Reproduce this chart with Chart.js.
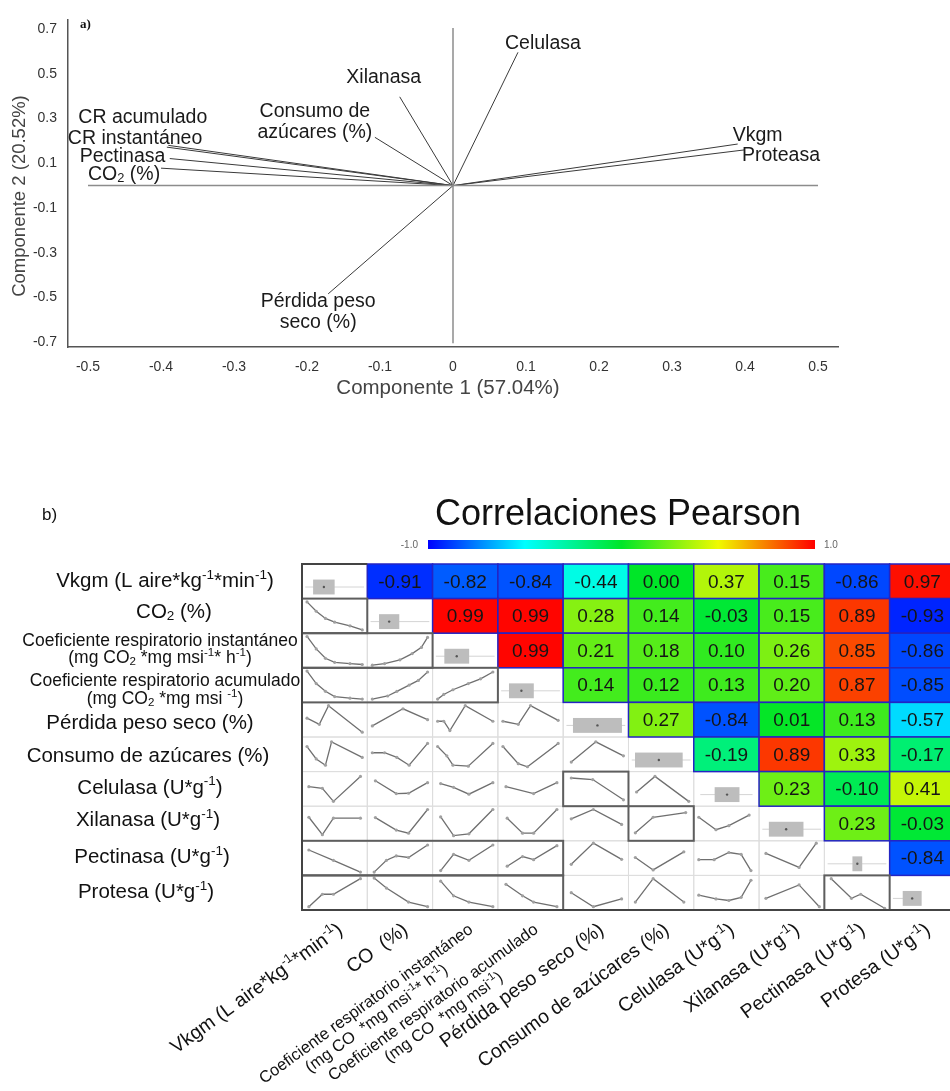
<!DOCTYPE html>
<html>
<head>
<meta charset="utf-8">
<script src="https://cdn.jsdelivr.net/npm/chart.js@4.4.1/dist/chart.umd.min.js"></script>
<style>
  body { margin: 0; background: #fff; }
  #wrap { position: relative; width: 950px; height: 1091px; overflow: hidden; }
  canvas { position: absolute; left: 0; }
</style>
</head>
<body>
<div id="wrap">
  <canvas id="biplot" width="950" height="420" style="top:0"></canvas>
  <canvas id="corr" width="950" height="671" style="top:420px"></canvas>
</div>
<script>
// ---- a) PCA biplot: loadings on component 1 and 2 ----
var vecNames = ['Celulasa', 'Xilanasa', 'Consumo de\nazúcares (%)', 'CR acumulado', 'CR instantáneo',
                'Pectinasa', 'CO_{2} (%)', 'Pérdida peso\nseco (%)', 'Vkgm', 'Proteasa'];
var pc1 = [0.089, -0.073, -0.107, -0.390, -0.392, -0.388, -0.400, -0.171, 0.390, 0.400];
var pc2 = [0.596, 0.397, 0.216, 0.180, 0.172, 0.121, 0.078, -0.484, 0.186, 0.160];
var xTicks = [-0.5, -0.4, -0.3, -0.2, -0.1, 0, 0.1, 0.2, 0.3, 0.4, 0.5];
var yTicks = [0.7, 0.5, 0.3, 0.1, -0.1, -0.3, -0.5, -0.7];

// ---- b) Pearson correlation matrix ----
var varNames = ['Vkgm (L aire*kg^{-1}*min^{-1})', 'CO_{2} (%)',
  'Coeficiente respiratorio instantáneo\n(mg CO_{2} *mg msi^{-1}* h^{-1})',
  'Coeficiente respiratorio acumulado\n(mg CO_{2} *mg msi ^{-1})',
  'Pérdida peso seco (%)', 'Consumo de azúcares (%)', 'Celulasa (U*g^{-1})',
  'Xilanasa (U*g^{-1})', 'Pectinasa (U*g^{-1})', 'Protesa (U*g^{-1})'];
var colNames = ['Vkgm (L aire*kg^{-1}*min^{-1})', 'CO  (%)',
  'Coeficiente respiratorio instantáneo\n(mg CO  *mg msi^{-1}* h^{-1})',
  'Coeficiente respiratorio acumulado\n(mg CO  *mg msi^{-1})',
  'Pérdida peso seco (%)', 'Consumo de azúcares (%)', 'Celulasa (U*g^{-1})',
  'Xilanasa (U*g^{-1})', 'Pectinasa (U*g^{-1})', 'Protesa (U*g^{-1})'];
// upper triangle, row by row (column r+1 .. 9)
var corrRows = [
  [-0.91, -0.82, -0.84, -0.44, 0.00, 0.37, 0.15, -0.86, 0.97],
  [0.99, 0.99, 0.28, 0.14, -0.03, 0.15, 0.89, -0.93],
  [0.99, 0.21, 0.18, 0.10, 0.26, 0.85, -0.86],
  [0.14, 0.12, 0.13, 0.20, 0.87, -0.85],
  [0.27, -0.84, 0.01, 0.13, -0.57],
  [-0.19, 0.89, 0.33, -0.17],
  [0.23, -0.10, 0.41],
  [0.23, -0.03],
  [-0.84]
];
// diagonal box plots (fraction of the cell width)
var boxLo = [0.17, 0.18, 0.18, 0.17, 0.15, 0.10, 0.32, 0.15, 0.43, 0.20];
var boxHi = [0.50, 0.49, 0.56, 0.55, 0.90, 0.83, 0.70, 0.68, 0.58, 0.49];
var whiskLo = [0.05, 0.05, 0.05, 0.05, 0.05, 0.05, 0.10, 0.05, 0.05, 0.05];
var whiskHi = [0.95, 0.95, 0.95, 0.95, 0.95, 0.95, 0.90, 0.95, 0.95, 0.30];
// lower triangle mini plots: [x0,y0,x1,y1,...] in cell fractions, miniLines[row][col]
var miniLines = [
  [],
  [[.05,.95,.2,.65,.35,.42,.5,.3,.75,.18,.95,.05]],
  [[.05,.95,.2,.55,.35,.25,.5,.12,.75,.08,.95,.05], [.05,.03,.25,.08,.5,.2,.7,.4,.85,.6,.95,.92]],
  [[.05,.95,.2,.55,.35,.3,.5,.13,.75,.08,.95,.05], [.05,.05,.3,.15,.45,.3,.65,.5,.8,.65,.95,.92],
   [.05,.05,.15,.2,.3,.35,.55,.55,.75,.7,.95,.92]],
  [[.05,.55,.25,.35,.4,.95,.95,.1], [.05,.3,.55,.85,.95,.5], [.05,.45,.15,.45,.25,.15,.5,.95,.95,.45],
   [.05,.45,.3,.35,.5,.95,.95,.48]],
  [[.05,.75,.2,.35,.35,.15,.45,.9,.95,.4], [.05,.55,.25,.55,.45,.4,.65,.15,.95,.85],
   [.05,.75,.2,.45,.3,.15,.55,.12,.95,.85], [.05,.75,.3,.2,.45,.1,.95,.85], [.1,.25,.5,.9,.95,.45]],
  [[.08,.57,.3,.52,.48,.1,.92,.9], [.1,.76,.44,.35,.64,.36,.95,.7], [.1,.67,.31,.55,.56,.33,.95,.7],
   [.1,.57,.55,.35,.93,.7], [.1,.85,.45,.8,.95,.15], [.1,.4,.4,.9,.95,.1]],
  [[.08,.7,.3,.14,.48,.67,.92,.67], [.1,.69,.44,.29,.64,.19,.95,.95], [.1,.71,.31,.11,.56,.17,.95,.95],
   [.12,.67,.37,.19,.55,.19,.93,.95], [.1,.65,.46,.95,.92,.47], [.08,.2,.37,.7,.9,.85],
   [.05,.7,.33,.3,.54,.43,.87,.77]],
  [[.08,.76,.48,.43,.92,.05], [.08,.05,.28,.43,.44,.57,.64,.52,.95,.92], [.1,.1,.31,.62,.56,.43,.95,.92],
   [.12,.24,.37,.55,.55,.45,.93,.9], [.1,.3,.46,.98,.92,.46], [.08,.52,.37,.12,.87,.7],
   [.05,.45,.3,.45,.54,.68,.74,.62,.9,.1], [.08,.65,.62,.2,.9,.98]],
  [[.08,.05,.3,.45,.48,.45,.92,.95], [.08,.97,.28,.65,.64,.2,.95,.05], [.1,.87,.31,.4,.56,.2,.95,.05],
   [.1,.77,.37,.4,.55,.2,.93,.05], [.1,.5,.46,.05,.92,.3], [.08,.2,.37,.95,.87,.2],
   [.05,.42,.33,.3,.54,.25,.74,.35,.9,.9], [.08,.32,.62,.75,.95,.05], [.08,.95,.41,.32,.56,.45,.95,0]]
];

// ---- layout / style ----
var FONT = '"Liberation Sans", Arial, sans-serif';
// label offsets from each vector tip (px)
var vecLabelPos = [
  {dx: -13, dy: -9, align: 'left'}, {dx: -16, dy: -19, align: 'center'}, {dx: -60, dy: -26, align: 'center'},
  {dx: -90, dy: -28, align: 'left'}, {dx: -99, dy: -9, align: 'left'}, {dx: -90, dy: -2, align: 'left'},
  {dx: -73, dy: 6, align: 'left'}, {dx: -10, dy: 8, align: 'center'}, {dx: -5, dy: -8, align: 'left'},
  {dx: -3, dy: 6, align: 'left'}
];
var rowLabelCx = [165, 174, 160, 165, 150, 148, 150, 148, 152, 146];
var rowLabelDy = [0, -4, -1, 5, 4, 2, -1, -3, -1, 0];
var jetStops = [[0, [0, 0, 255]], [0.25, [0, 255, 255]], [0.5, [0, 230, 40]], [0.75, [240, 250, 0]], [1, [255, 0, 0]]];

function jet(v) {
  var t = (v + 1) / 2;
  for (var i = 1; i < jetStops.length; i++) {
    if (t <= jetStops[i][0]) {
      var a = jetStops[i - 1], b = jetStops[i];
      var f = (t - a[0]) / (b[0] - a[0]);
      var c = a[1].map(function(x, k) { return Math.round(x + (b[1][k] - x) * f); });
      return 'rgb(' + c.join(',') + ')';
    }
  }
  return 'rgb(255,0,0)';
}

// text with ^{sup} and _{sub}
function richSegs(s) {
  var out = [], re = /(\^\{[^}]*\}|_\{[^}]*\})/g, last = 0, m;
  while ((m = re.exec(s))) {
    if (m.index > last) out.push({t: s.slice(last, m.index), k: 0});
    out.push({t: m[0].slice(2, -1), k: m[0][0] === '^' ? 1 : -1});
    last = re.lastIndex;
  }
  if (last < s.length) out.push({t: s.slice(last), k: 0});
  return out;
}
function richWidth(ctx, s, size) {
  var w = 0;
  richSegs(s).forEach(function(g) {
    ctx.font = (g.k ? size * 0.66 : size) + 'px ' + FONT;
    w += ctx.measureText(g.t).width;
  });
  return w;
}
function drawRich(ctx, s, x, y, size, align) {
  var segs = richSegs(s), w = richWidth(ctx, s, size);
  var cx = align === 'center' ? x - w / 2 : align === 'right' ? x - w : x;
  ctx.textAlign = 'left';
  ctx.textBaseline = 'middle';
  segs.forEach(function(g) {
    ctx.font = (g.k ? size * 0.66 : size) + 'px ' + FONT;
    var off = g.k === 1 ? -size * 0.3 : g.k === -1 ? size * 0.2 : 0;
    ctx.fillText(g.t, cx, y + off);
    cx += ctx.measureText(g.t).width;
  });
}

function fmtTick(v) { return Math.abs(v) < 1e-9 ? '0' : v.toFixed(1); }

// ================= a) biplot =================
var biplotLabels = {
  id: 'biplotLabels',
  afterDraw: function(chart) {
    var ctx = chart.ctx, xs = chart.scales.x, ys = chart.scales.y;
    ctx.save();
    ctx.fillStyle = '#1a1a1a';
    vecNames.forEach(function(n, i) {
      var p = vecLabelPos[i];
      var px = xs.getPixelForValue(pc1[i]) + p.dx, py = ys.getPixelForValue(pc2[i]) + p.dy;
      n.split('\n').forEach(function(line, k) {
        drawRich(ctx, line, px, py + k * 21, 19.5, p.align);
      });
    });
    ctx.fillStyle = '#444';
    ctx.font = '20.5px ' + FONT;
    ctx.textAlign = 'center';
    ctx.textBaseline = 'middle';
    ctx.fillText('Componente 1 (57.04%)', 448, 388);
    ctx.translate(20, 196);
    ctx.rotate(-Math.PI / 2);
    ctx.font = '18.5px ' + FONT;
    ctx.fillText('Componente 2 (20.52%)', 0, 0);
    ctx.restore();
    ctx.save();
    ctx.fillStyle = '#111';
    ctx.font = 'bold 13px "Liberation Serif", serif';
    ctx.textBaseline = 'middle';
    ctx.fillText('a)', 80, 25);
    ctx.restore();
  }
};

var biplotSets = [
  {data: [{x: xTicks[0], y: 0}, {x: xTicks[xTicks.length - 1], y: 0}], borderColor: '#8c8c8c', borderWidth: 1.5},
  {data: [{x: 0, y: -0.705}, {x: 0, y: 0.705}], borderColor: '#8c8c8c', borderWidth: 1.5}
].concat(vecNames.map(function(n, i) {
  return {label: n, data: [{x: 0, y: 0}, {x: pc1[i], y: pc2[i]}], borderColor: '#3a3a3a', borderWidth: 1};
}));
biplotSets.forEach(function(d) { d.showLine = true; d.pointRadius = 0; });

new Chart(document.getElementById('biplot'), {
  type: 'scatter',
  data: {datasets: biplotSets},
  options: {
    responsive: false,
    animation: false,
    events: [],
    layout: {padding: {left: 0, right: 112, top: 8, bottom: 0}},
    plugins: {legend: {display: false}, tooltip: {enabled: false}},
    scales: {
      x: {
        type: 'linear', min: -0.5274, max: 0.5274,
        grid: {display: false, drawTicks: false},
        border: {color: '#555', width: 1.5},
        ticks: {font: {family: FONT, size: 14}, color: '#333', padding: 12, maxRotation: 0, autoSkip: false, callback: fmtTick},
        afterBuildTicks: function(s) { s.ticks = xTicks.map(function(v) { return {value: v}; }); },
        afterFit: function(s) { s.height = 73; }
      },
      y: {
        type: 'linear', min: -0.7216, max: 0.7432,
        grid: {display: false, drawTicks: false},
        border: {color: '#555', width: 1.5},
        ticks: {font: {family: FONT, size: 14}, color: '#333', padding: 11, autoSkip: false, callback: fmtTick},
        afterBuildTicks: function(s) { s.ticks = yTicks.map(function(v) { return {value: v}; }); },
        afterFit: function(s) { s.width = 68; }
      }
    }
  },
  plugins: [biplotLabels]
});

// ================= b) correlation matrix =================
var N = varNames.length;
function corr(r, c) {
  if (r === c) return 1;
  return r < c ? corrRows[r][c - r - 1] : corrRows[c][r - c - 1];
}

var miniSets = [];
miniLines.forEach(function(row, r) {
  row.forEach(function(flat, c) {
    var pts = [];
    for (var k = 0; k < flat.length; k += 2) {
      pts.push({x: c + 0.03 + 0.94 * flat[k], y: r + 1 - (0.05 + 0.9 * flat[k + 1])});
    }
    miniSets.push({
      data: pts, showLine: true, borderColor: '#6f6f6f', borderWidth: 1.3,
      pointRadius: 1.6, pointBackgroundColor: '#a0a0a0', pointBorderWidth: 0
    });
  });
});

var matrixDecor = {
  id: 'matrixDecor',
  beforeDatasetsDraw: function(chart) {
    var ctx = chart.ctx, xs = chart.scales.x, ys = chart.scales.y;
    var X = function(v) { return xs.getPixelForValue(v); };
    var Y = function(v) { return ys.getPixelForValue(v); };
    ctx.save();
    // light grid in the lower triangle and diagonal
    ctx.strokeStyle = '#dedede';
    ctx.lineWidth = 1;
    for (var r = 0; r < N; r++) {
      for (var c = 0; c <= r; c++) {
        ctx.strokeRect(X(c), Y(r), X(c + 1) - X(c), Y(r + 1) - Y(r));
      }
    }
    // coloured upper triangle
    for (r = 0; r < N; r++) {
      for (c = r + 1; c < N; c++) {
        var v = corr(r, c);
        ctx.fillStyle = jet(v);
        ctx.fillRect(X(c), Y(r), X(c + 1) - X(c), Y(r + 1) - Y(r));
        ctx.strokeStyle = '#2424c4';
        ctx.lineWidth = 1.5;
        ctx.strokeRect(X(c), Y(r), X(c + 1) - X(c), Y(r + 1) - Y(r));
        ctx.fillStyle = '#151515';
        ctx.font = '19px ' + FONT;
        ctx.textAlign = 'center';
        ctx.textBaseline = 'middle';
        ctx.fillText(v.toFixed(2), X(c + 0.5), Y(r + 0.5) + 1);
      }
    }
    // diagonal box plots
    for (r = 0; r < N; r++) {
      var ym = Y(r + 0.665);
      ctx.strokeStyle = '#d4d4d4';
      ctx.lineWidth = 1;
      ctx.beginPath();
      ctx.moveTo(X(r + whiskLo[r]), ym);
      ctx.lineTo(X(r + whiskHi[r]), ym);
      ctx.stroke();
      ctx.fillStyle = '#bdbdbd';
      ctx.fillRect(X(r + boxLo[r]), Y(r + 0.45), X(r + boxHi[r]) - X(r + boxLo[r]), Y(r + 0.88) - Y(r + 0.45));
      ctx.fillStyle = '#555';
      ctx.beginPath();
      ctx.arc(X(r + (boxLo[r] + boxHi[r]) / 2), ym, 1.2, 0, Math.PI * 2);
      ctx.fill();
    }
    ctx.restore();
  },
  afterDatasetsDraw: function(chart) {
    var ctx = chart.ctx, xs = chart.scales.x, ys = chart.scales.y;
    var X = function(v) { return xs.getPixelForValue(v); };
    var Y = function(v) { return ys.getPixelForValue(v); };
    ctx.save();
    // frames around strong correlations in the lower triangle
    ctx.strokeStyle = '#5e5e5e';
    ctx.lineWidth = 2;
    for (var r = 1; r < N; r++) {
      var c = 0;
      while (c < r) {
        if (Math.abs(corr(r, c)) >= 0.8) {
          var c1 = c;
          while (c1 + 1 < r && Math.abs(corr(r, c1 + 1)) >= 0.8) c1++;
          ctx.strokeRect(X(c), Y(r), X(c1 + 1) - X(c), Y(r + 1) - Y(r));
          c = c1 + 1;
        } else {
          c++;
        }
      }
    }
    // outer border
    ctx.strokeStyle = '#444';
    ctx.lineWidth = 2;
    ctx.beginPath();
    ctx.moveTo(X(1), Y(0));
    ctx.lineTo(X(0), Y(0));
    ctx.lineTo(X(0), Y(N));
    ctx.lineTo(chart.width, Y(N));
    ctx.stroke();
    ctx.restore();
  },
  afterDraw: function(chart) {
    var ctx = chart.ctx, xs = chart.scales.x, ys = chart.scales.y;
    var X = function(v) { return xs.getPixelForValue(v); };
    var Y = function(v) { return ys.getPixelForValue(v); };
    ctx.save();
    ctx.fillStyle = '#111';
    // row labels
    varNames.forEach(function(n, r) {
      var lines = n.split('\n');
      var size = lines.length > 1 ? 17.5 : 20.5, lh = 17.5;
      lines.forEach(function(line, k) {
        drawRich(ctx, line, rowLabelCx[r], Y(r + 0.5) + rowLabelDy[r] + (k - (lines.length - 1) / 2) * lh, size, 'center');
      });
    });
    // rotated column labels
    colNames.forEach(function(n, c) {
      var lines = n.split('\n');
      var size = lines.length > 1 ? 16.5 : 19.5, lh = 18;
      var W = Math.max.apply(null, lines.map(function(l) { return richWidth(ctx, l, size); }));
      ctx.save();
      ctx.translate(X(c + 0.5) + 6, Y(N) + 18);
      ctx.rotate(-36 * Math.PI / 180);
      lines.forEach(function(line, k) {
        drawRich(ctx, line, -W / 2, k * lh, size, 'center');
      });
      ctx.restore();
    });
    // title, panel letter and colour bar
    ctx.textAlign = 'center';
    ctx.textBaseline = 'middle';
    ctx.font = '36px ' + FONT;
    ctx.fillText('Correlaciones Pearson', 618, 95);
    ctx.textAlign = 'left';
    ctx.font = '17px ' + FONT;
    ctx.fillText('b)', 42, 95);
    var g = ctx.createLinearGradient(428, 0, 815, 0);
    jetStops.forEach(function(s) { g.addColorStop(s[0], 'rgb(' + s[1].join(',') + ')'); });
    ctx.fillStyle = g;
    ctx.fillRect(428, 120, 387, 9);
    ctx.fillStyle = '#666';
    ctx.font = '10px ' + FONT;
    ctx.textAlign = 'right';
    ctx.fillText('-1.0', 418, 125);
    ctx.textAlign = 'left';
    ctx.fillText('1.0', 824, 125);
    ctx.restore();
  }
};

new Chart(document.getElementById('corr'), {
  type: 'scatter',
  data: {datasets: miniSets},
  options: {
    responsive: false,
    animation: false,
    events: [],
    layout: {padding: {left: 302, right: 0, top: 144, bottom: 181}},
    plugins: {legend: {display: false}, tooltip: {enabled: false}},
    elements: {line: {tension: 0}},
    scales: {
      x: {type: 'linear', min: 0, max: 9.863, display: false},
      y: {type: 'linear', min: 0, max: 10, reverse: true, display: false}
    }
  },
  plugins: [matrixDecor]
});
</script>
</body>
</html>
